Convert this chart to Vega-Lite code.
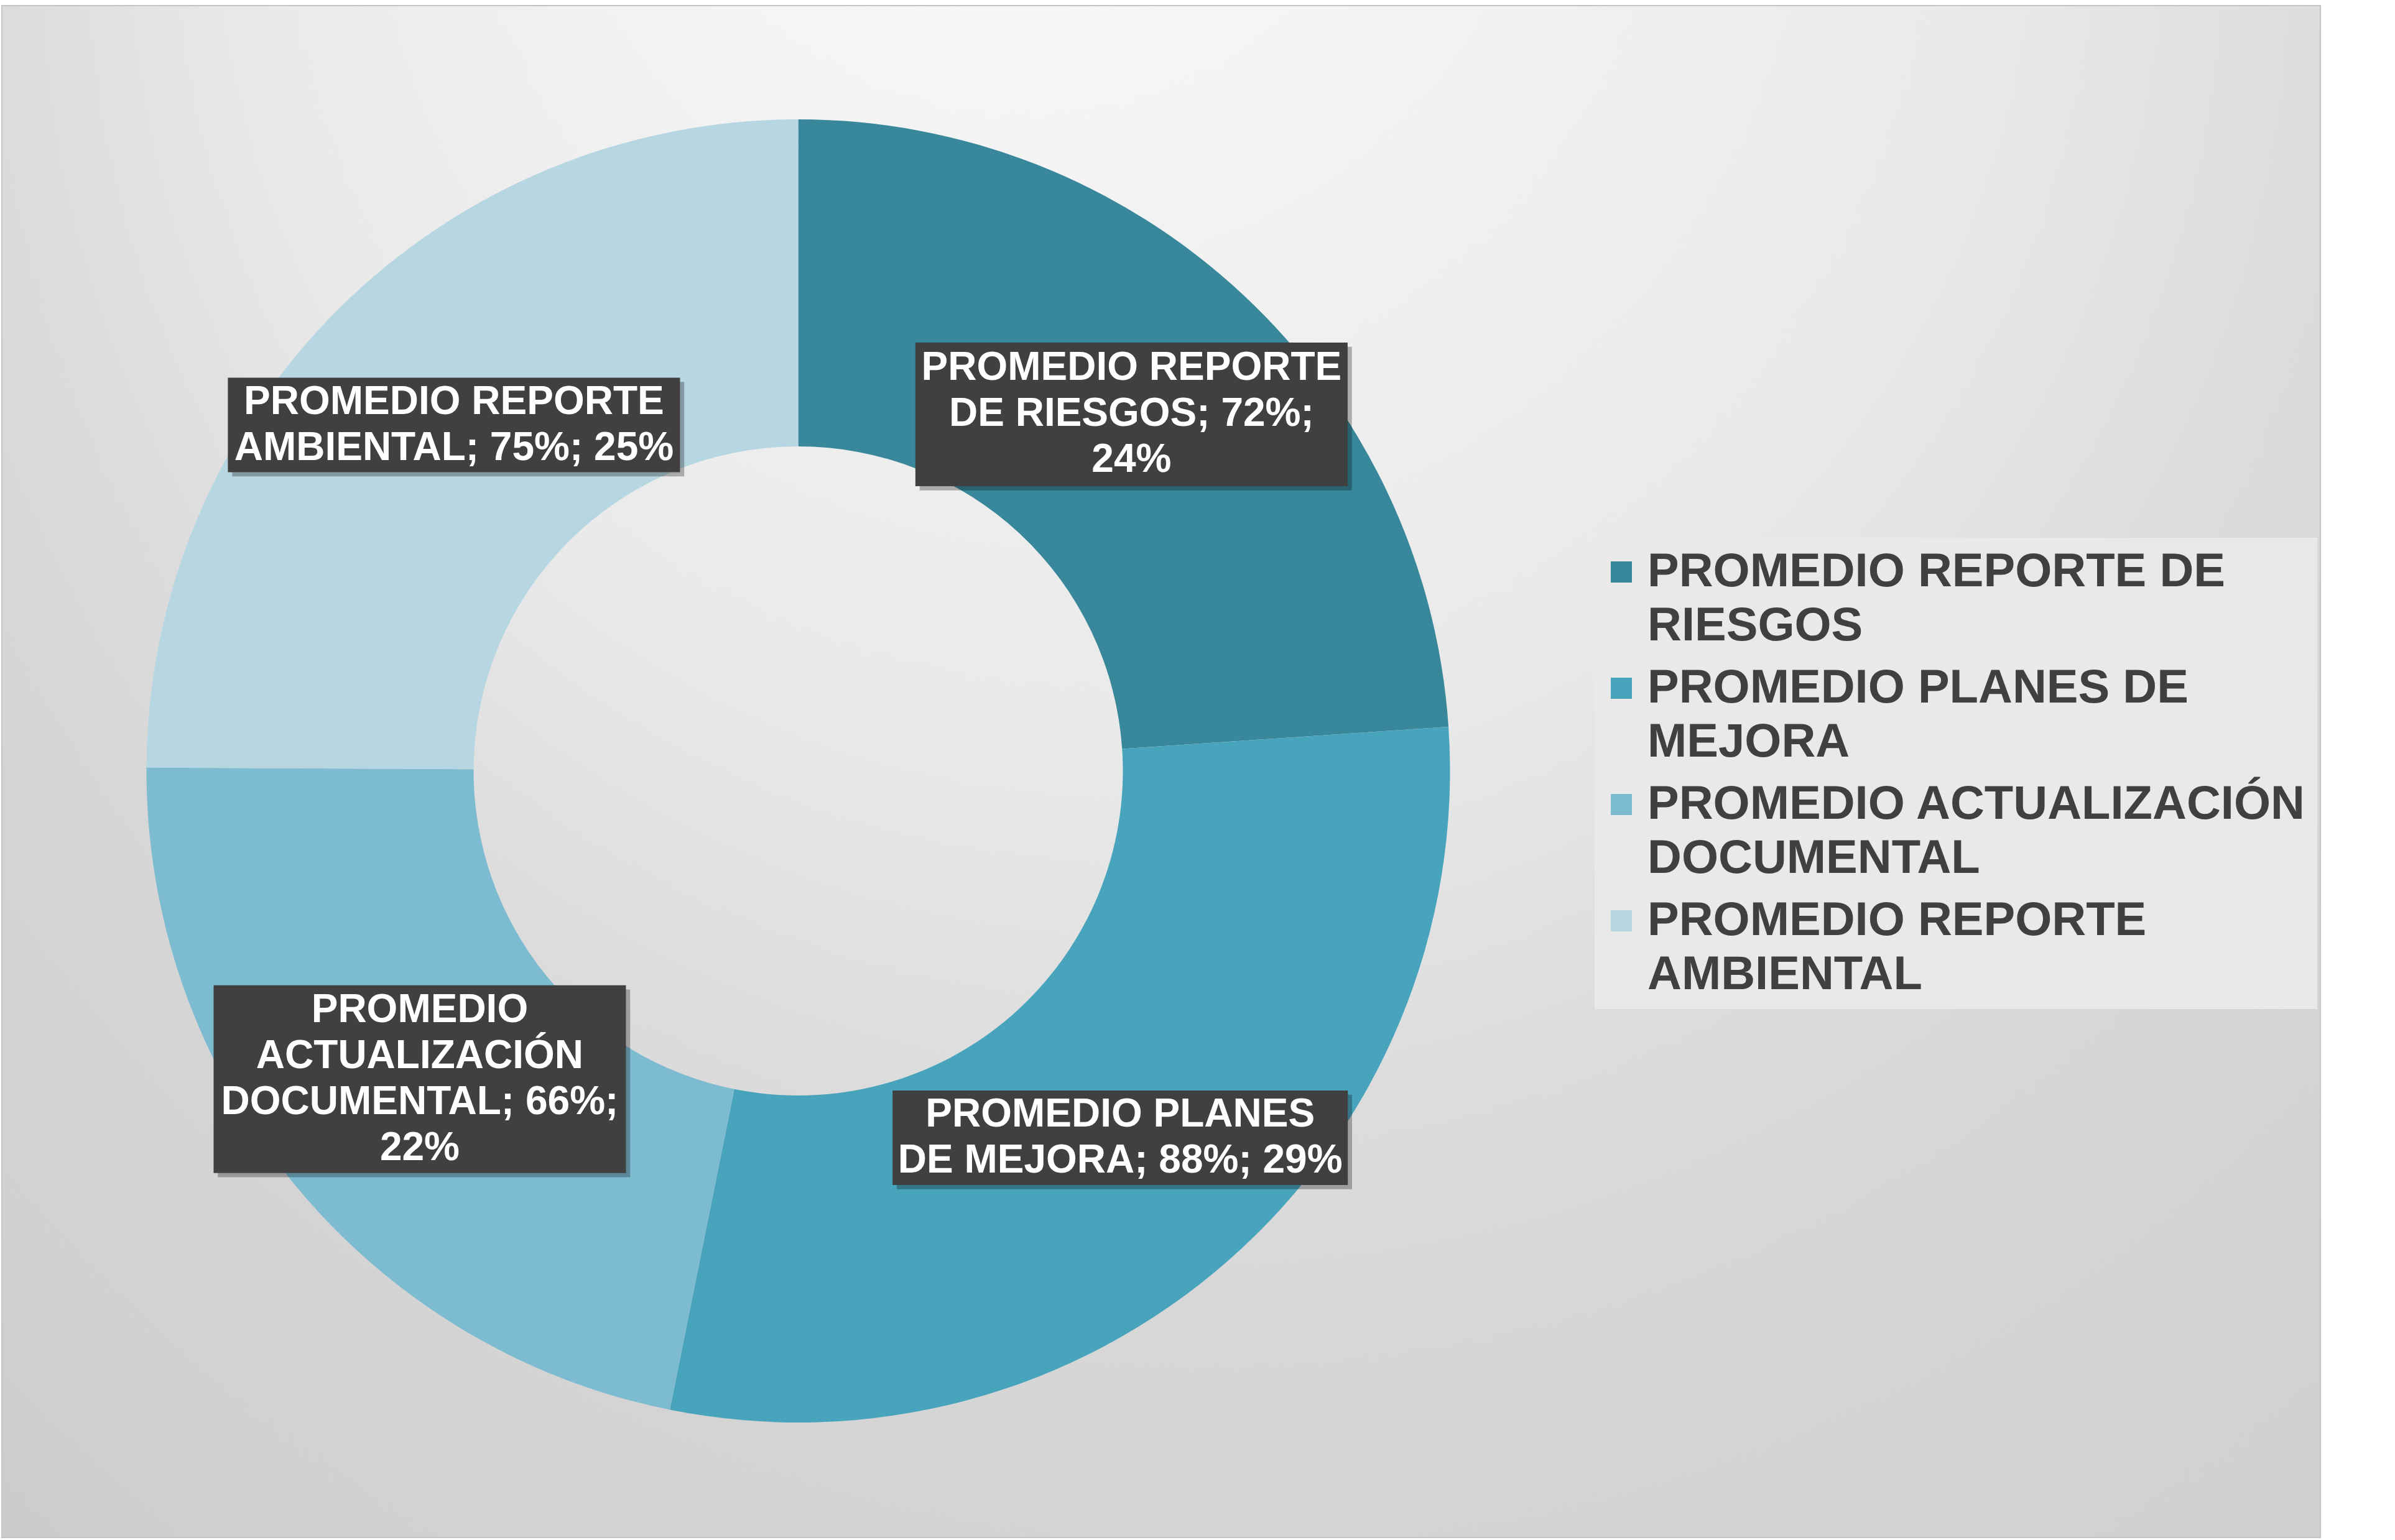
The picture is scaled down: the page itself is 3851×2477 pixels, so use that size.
{
  "$schema": "https://vega.github.io/schema/vega-lite/v6.json",
  "width": 3728,
  "height": 2464,
  "autosize": {"type": "none"},
  "padding": {"left": 3, "top": 9, "right": 120, "bottom": 4},
  "background": "#ffffff",
  "config": {
    "view": {
      "stroke": "#c4c4c4",
      "strokeWidth": 2,
      "fill": {
        "gradient": "radial",
        "x1": 0.41, "y1": 0.0, "r1": 0,
        "x2": 0.6, "y2": 0.3, "r2": 1.0,
        "stops": [
          {"offset": 0, "color": "#fdfdfd"},
          {"offset": 0.38, "color": "#e9e9e9"},
          {"offset": 0.5, "color": "#dcdcdc"},
          {"offset": 0.6, "color": "#d5d5d5"},
          {"offset": 0.75, "color": "#d0d0d0"},
          {"offset": 0.9, "color": "#c4c4c4"},
          {"offset": 1, "color": "#bfbfbf"}
        ]
      }
    },
    "style": {"guide-label": {"lineHeight": 87}}
  },
  "data": {
    "values": [
      {"categoria": "PROMEDIO REPORTE DE RIESGOS", "valor": 72, "etiqueta": "PROMEDIO REPORTE\nDE RIESGOS; 72%;\n24%"},
      {"categoria": "PROMEDIO PLANES DE MEJORA", "valor": 88, "etiqueta": "PROMEDIO PLANES\nDE MEJORA; 88%; 29%"},
      {"categoria": "PROMEDIO ACTUALIZACIÓN DOCUMENTAL", "valor": 66, "etiqueta": "PROMEDIO\nACTUALIZACIÓN\nDOCUMENTAL; 66%;\n22%"},
      {"categoria": "PROMEDIO REPORTE AMBIENTAL", "valor": 75, "etiqueta": "PROMEDIO REPORTE\nAMBIENTAL; 75%; 25%"}
    ]
  },
  "transform": [
    {"joinaggregate": [{"op": "sum", "field": "valor", "as": "total"}]},
    {"window": [{"op": "sum", "field": "valor", "as": "acum"}, {"op": "row_number", "as": "idx"}], "frame": [null, 0]},
    {"calculate": "2 * PI * (datum.acum - datum.valor / 2) / datum.total", "as": "medio"},
    {"calculate": "0.749 * sin(datum.medio)", "as": "lx"},
    {"calculate": "0.749 * cos(datum.medio)", "as": "ly"},
    {"calculate": "datum.lx + 0.0065", "as": "sx"},
    {"calculate": "datum.ly - 0.0065", "as": "sy"},
    {"calculate": "datum.ly + (length(split(datum.etiqueta, '\\n')) - 1) / 2 * 74 / 1048", "as": "ty"}
  ],
  "layer": [
    {
      "mark": {"type": "arc", "radius": 1048, "radius2": 522, "strokeWidth": 0},
      "encoding": {
        "x": {"datum": 0, "type": "quantitative", "scale": {"domain": [-1.22185, 2.3354], "nice": false, "zero": false}, "axis": null},
        "y": {"datum": 0, "type": "quantitative", "scale": {"domain": [-1.17653, 1.17462], "nice": false, "zero": false}, "axis": null},
        "theta": {"field": "valor", "type": "quantitative", "stack": true},
        "order": {"field": "idx", "type": "quantitative"},
        "color": {
          "field": "categoria",
          "type": "nominal",
          "scale": {
            "domain": ["PROMEDIO REPORTE DE RIESGOS", "PROMEDIO PLANES DE MEJORA", "PROMEDIO ACTUALIZACIÓN DOCUMENTAL", "PROMEDIO REPORTE AMBIENTAL"],
            "range": ["#38879b", "#48a3bc", "#7dbbd1", "#b6d6e2"]
          },
          "legend": {
            "orient": "none",
            "legendX": 2561,
            "legendY": 856,
            "title": null,
            "direction": "vertical",
            "labelExpr": "[substring(datum.label, 0, lastindexof(datum.label, ' ')), substring(datum.label, lastindexof(datum.label, ' ') + 1)]",
            "symbolType": "square",
            "symbolSize": 1156,
            "symbolStrokeWidth": 0,
            "symbolOffset": -12,
            "labelFont": "Liberation Sans",
            "labelFontWeight": "bold",
            "labelFontSize": 76,
            "labelColor": "#404040",
            "labelLimit": 0,
            "labelOffset": 4,
            "padding": 17,
            "rowPadding": 24,
            "fillColor": "#e9e9e9"
          }
        }
      }
    },
    {
      "transform": [{"filter": "datum.idx == 1"}],
      "layer": [
        {
          "mark": {"type": "point", "filled": true, "opacity": 1, "size": 535824, "strokeWidth": 0, "color": "#000000", "fillOpacity": 0.28, "shape": "M-0.9495,-0.3156H0.9495V0.3156H-0.9495Z"},
          "encoding": {"x": {"field": "sx", "type": "quantitative"}, "y": {"field": "sy", "type": "quantitative"}}
        },
        {
          "mark": {"type": "point", "filled": true, "opacity": 1, "size": 535824, "strokeWidth": 0, "color": "#404040", "shape": "M-0.9495,-0.3156H0.9495V0.3156H-0.9495Z"},
          "encoding": {"x": {"field": "lx", "type": "quantitative"}, "y": {"field": "ly", "type": "quantitative"}}
        }
      ]
    },
    {
      "transform": [{"filter": "datum.idx == 2"}],
      "layer": [
        {
          "mark": {"type": "point", "filled": true, "opacity": 1, "size": 535824, "strokeWidth": 0, "color": "#000000", "fillOpacity": 0.28, "shape": "M-1,-0.2077H1V0.2077H-1Z"},
          "encoding": {"x": {"field": "sx", "type": "quantitative"}, "y": {"field": "sy", "type": "quantitative"}}
        },
        {
          "mark": {"type": "point", "filled": true, "opacity": 1, "size": 535824, "strokeWidth": 0, "color": "#404040", "shape": "M-1,-0.2077H1V0.2077H-1Z"},
          "encoding": {"x": {"field": "lx", "type": "quantitative"}, "y": {"field": "ly", "type": "quantitative"}}
        }
      ]
    },
    {
      "transform": [{"filter": "datum.idx == 3"}],
      "layer": [
        {
          "mark": {"type": "point", "filled": true, "opacity": 1, "size": 535824, "strokeWidth": 0, "color": "#000000", "fillOpacity": 0.28, "shape": "M-0.9057,-0.4126H0.9057V0.4126H-0.9057Z"},
          "encoding": {"x": {"field": "sx", "type": "quantitative"}, "y": {"field": "sy", "type": "quantitative"}}
        },
        {
          "mark": {"type": "point", "filled": true, "opacity": 1, "size": 535824, "strokeWidth": 0, "color": "#404040", "shape": "M-0.9057,-0.4126H0.9057V0.4126H-0.9057Z"},
          "encoding": {"x": {"field": "lx", "type": "quantitative"}, "y": {"field": "ly", "type": "quantitative"}}
        }
      ]
    },
    {
      "transform": [{"filter": "datum.idx == 4"}],
      "layer": [
        {
          "mark": {"type": "point", "filled": true, "opacity": 1, "size": 535824, "strokeWidth": 0, "color": "#000000", "fillOpacity": 0.28, "shape": "M-0.9932,-0.2077H0.9932V0.2077H-0.9932Z"},
          "encoding": {"x": {"field": "sx", "type": "quantitative"}, "y": {"field": "sy", "type": "quantitative"}}
        },
        {
          "mark": {"type": "point", "filled": true, "opacity": 1, "size": 535824, "strokeWidth": 0, "color": "#404040", "shape": "M-0.9932,-0.2077H0.9932V0.2077H-0.9932Z"},
          "encoding": {"x": {"field": "lx", "type": "quantitative"}, "y": {"field": "ly", "type": "quantitative"}}
        }
      ]
    },
    {
      "mark": {"type": "text", "font": "Liberation Sans", "fontWeight": "bold", "fontSize": 64, "lineHeight": 74, "lineBreak": "\n", "fill": "#ffffff", "align": "center", "baseline": "middle"},
      "encoding": {
        "x": {"field": "lx", "type": "quantitative"},
        "y": {"field": "ty", "type": "quantitative"},
        "text": {"field": "etiqueta", "type": "nominal"}
      }
    }
  ]
}
